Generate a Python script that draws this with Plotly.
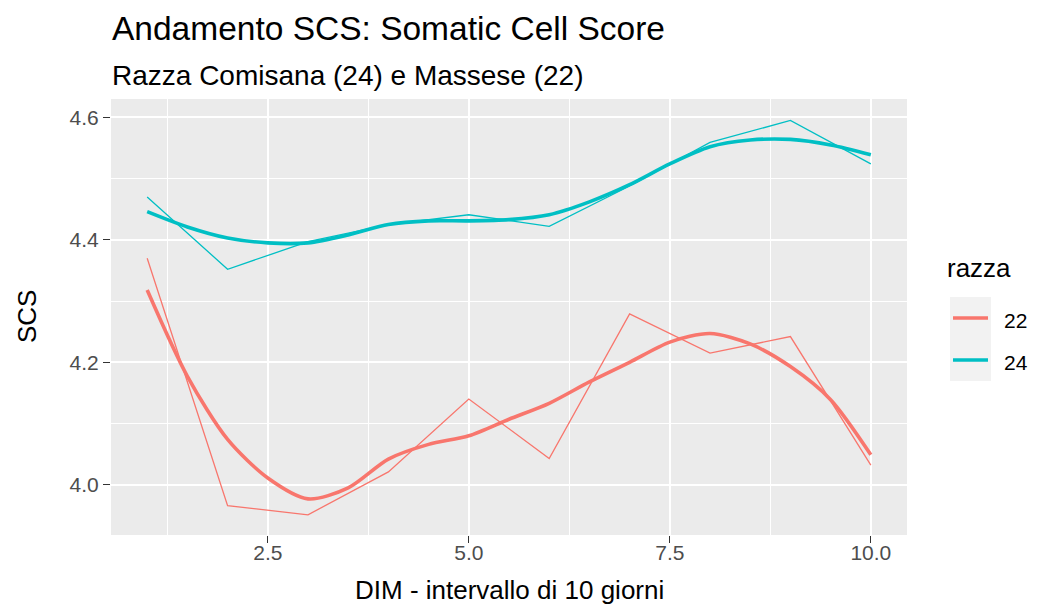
import plotly.graph_objects as go

# ---- data ----
dim = [1, 2, 3, 4, 5, 6, 7, 8, 9, 10]
scs_22 = [4.370, 3.966, 3.951, 4.021, 4.140, 4.043, 4.279, 4.215, 4.242, 4.032]
scs_24 = [4.470, 4.352, 4.397, 4.425, 4.441, 4.422, 4.488, 4.559, 4.595, 4.524]

dim_smooth = [1.0, 1.5, 2.0, 2.5, 3.0, 3.5, 4.0, 4.5, 5.0, 5.5,
              6.0, 6.5, 7.0, 7.5, 8.0, 8.5, 9.0, 9.5, 10.0]
smooth_22 = [4.318, 4.177, 4.074, 4.011, 3.977, 3.995, 4.042, 4.066, 4.080, 4.107,
             4.133, 4.168, 4.200, 4.233, 4.247, 4.230, 4.193, 4.139, 4.049]
smooth_24 = [4.446, 4.421, 4.403, 4.395, 4.395, 4.408, 4.425, 4.431, 4.431, 4.433,
             4.441, 4.462, 4.490, 4.524, 4.552, 4.563, 4.564, 4.555, 4.539]

x_ticks = [2.5, 5.0, 7.5, 10.0]
x_ticktext = ["2.5", "5.0", "7.5", "10.0"]
y_ticks = [4.0, 4.2, 4.4, 4.6]
y_ticktext = ["4.0", "4.2", "4.4", "4.6"]

groups = ["22", "24"]
colors = {"22": "#F8766D", "24": "#00BFC4"}

title = "Andamento SCS: Somatic Cell Score"
subtitle = "Razza Comisana (24) e Massese (22)"
x_title = "DIM - intervallo di 10 giorni"
y_title = "SCS"
legend_title = "razza"

FONT = "Liberation Sans, Arial, sans-serif"

# ---- geometry (screen pixels; page body has an 8px margin) ----
OFF = 8
SW, SH = 1037, 610
W, H = SW - OFF, SH - OFF
L, R, T, B = 111, 907, 99, 535
pw, ph = R - L, B - T


def px_x(p):
    return (p - L) / pw


def px_y(p):
    return (B - p) / ph


fig = go.Figure()

raw = {"22": scs_22, "24": scs_24}
smooth = {"22": smooth_22, "24": smooth_24}
for g in groups:
    fig.add_trace(go.Scatter(x=dim, y=raw[g], mode="lines",
                             line=dict(color=colors[g], width=1.3),
                             showlegend=False, hoverinfo="x+y"))
    fig.add_trace(go.Scatter(x=dim_smooth, y=smooth[g], mode="lines",
                             line=dict(color=colors[g], width=3.6, shape="spline", smoothing=0.8),
                             showlegend=False, hoverinfo="x+y"))

fig.update_layout(
    width=W, height=H,
    margin=dict(l=L - OFF, r=SW - R, t=T - OFF, b=SH - B, pad=0),
    paper_bgcolor="white",
    plot_bgcolor="#EBEBEB",
    showlegend=False,
    font=dict(family=FONT, color="black"),
)

fig.update_xaxes(
    range=[0.55, 10.45],
    tickvals=x_ticks, ticktext=x_ticktext,
    ticks="outside", ticklen=7, tickwidth=1.3, tickcolor="#333333",
    tickfont=dict(family=FONT, size=21, color="#4D4D4D"),
    ticklabelstandoff=-8,
    showgrid=True, gridcolor="white", gridwidth=2,
    minor=dict(tickvals=[1.25, 3.75, 6.25, 8.75], showgrid=True,
               gridcolor="white", gridwidth=1, ticks=""),
    zeroline=False, showline=False,
)
fig.update_yaxes(
    range=[3.918, 4.630],
    tickvals=y_ticks, ticktext=y_ticktext,
    ticks="outside", ticklen=7, tickwidth=1.3, tickcolor="#333333",
    tickfont=dict(family=FONT, size=21, color="#4D4D4D"),
    showgrid=True, gridcolor="white", gridwidth=2,
    minor=dict(tickvals=[4.1, 4.3, 4.5], showgrid=True,
               gridcolor="white", gridwidth=1, ticks=""),
    zeroline=False, showline=False,
)

ann = []
ann.append(dict(text=title, x=px_x(110), y=px_y(29), xref="paper", yref="paper",
                xanchor="left", yanchor="middle", showarrow=False,
                font=dict(family=FONT, size=33.5, color="black")))
ann.append(dict(text=subtitle, x=px_x(110), y=px_y(75), xref="paper", yref="paper",
                xanchor="left", yanchor="middle", showarrow=False,
                font=dict(family=FONT, size=28, color="black")))
ann.append(dict(text=x_title, x=0.5, y=px_y(590), xref="paper", yref="paper",
                xanchor="center", yanchor="middle", showarrow=False,
                font=dict(family=FONT, size=26, color="black")))
ann.append(dict(text=y_title, x=px_x(27), y=0.5, xref="paper", yref="paper",
                xanchor="center", yanchor="middle", showarrow=False, textangle=-90,
                font=dict(family=FONT, size=26, color="black")))
# legend
ann.append(dict(text=legend_title, x=px_x(945), y=px_y(268), xref="paper", yref="paper",
                xanchor="left", yanchor="middle", showarrow=False,
                font=dict(family=FONT, size=26, color="black")))

shapes = []
key_tops = [297, 339]
key_h = 42
for i, g in enumerate(groups):
    top = key_tops[i]
    shapes.append(dict(type="rect", xref="paper", yref="paper",
                       x0=px_x(950), x1=px_x(991), y0=px_y(top + key_h), y1=px_y(top),
                       fillcolor="#F2F2F2", line=dict(width=0), layer="above"))
    cy = top + key_h / 2
    shapes.append(dict(type="line", xref="paper", yref="paper",
                       x0=px_x(953), x1=px_x(988), y0=px_y(cy), y1=px_y(cy),
                       line=dict(color=colors[g], width=3.6), layer="above"))
    ann.append(dict(text=g, x=px_x(1002), y=px_y(cy + 2), xref="paper", yref="paper",
                    xanchor="left", yanchor="middle", showarrow=False,
                    font=dict(family=FONT, size=21, color="black")))

fig.update_layout(annotations=ann, shapes=shapes)

fig.write_html("out.html")
